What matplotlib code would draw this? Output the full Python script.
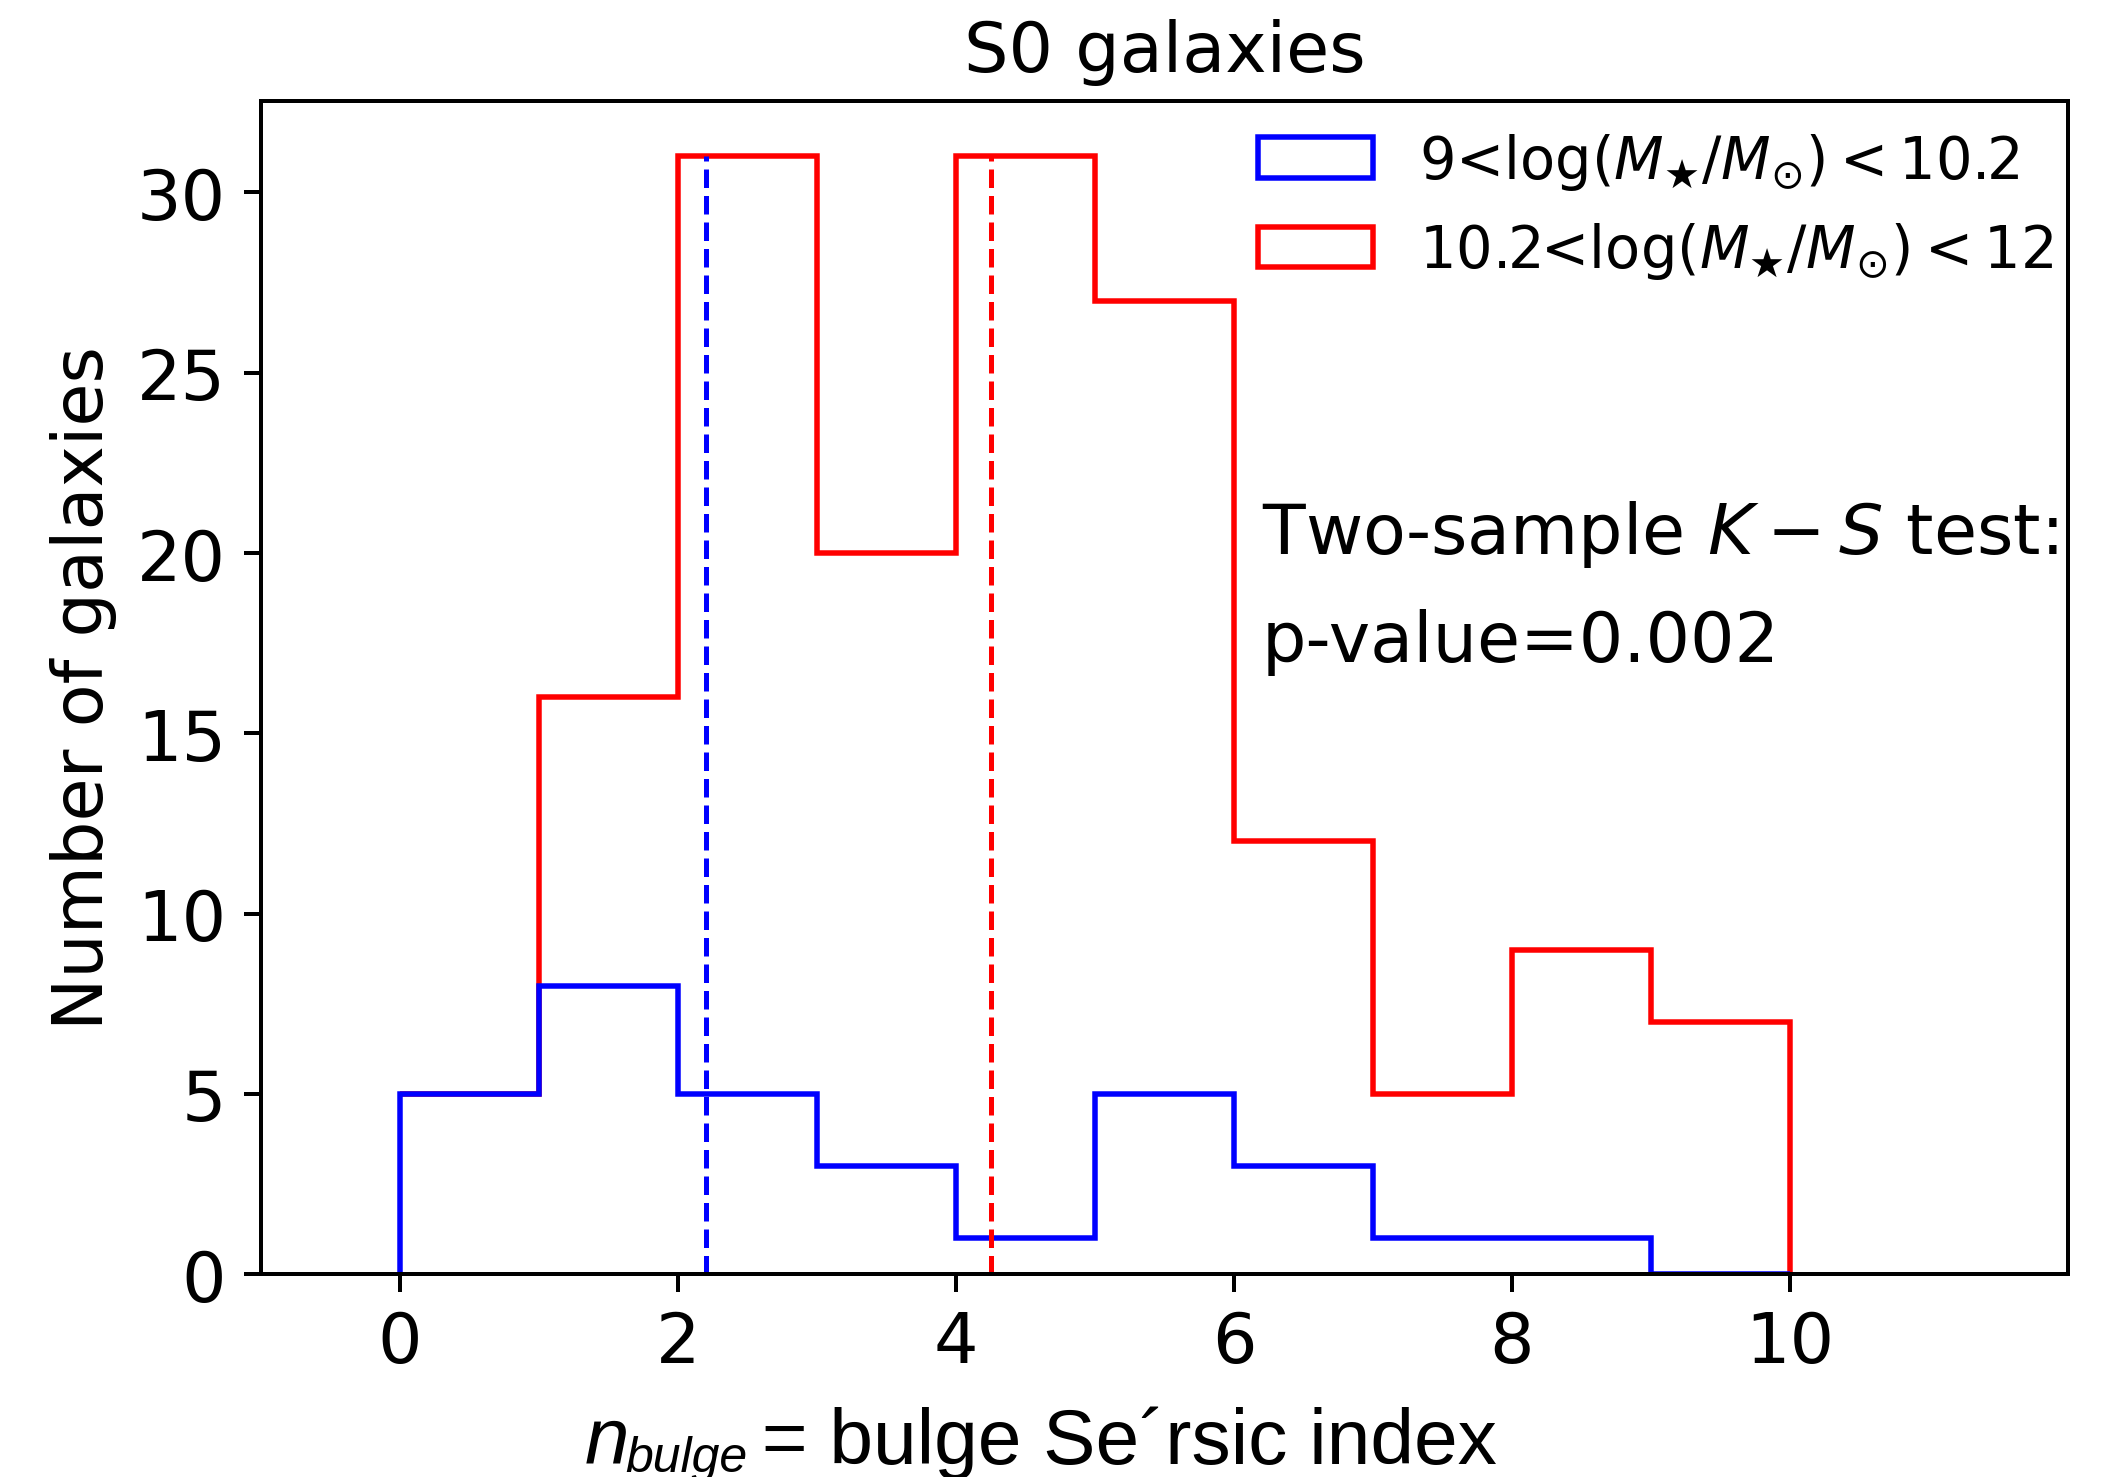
import numpy as np
import matplotlib
matplotlib.use('Agg')
import matplotlib.pyplot as plt

# Bins of the bulge Sersic index and counts
bin_edges = [0, 1, 2, 3, 4, 5, 6, 7, 8, 9, 10]
low_mass_counts = [5, 8, 5, 3, 1, 5, 3, 1, 1, 0]     # 9 < log M < 10.2
high_mass_counts = [0, 8, 26, 17, 30, 22, 9, 4, 8, 7]  # 10.2 < log M < 12 (stacked on top)
low_mass_median = 2.2
high_mass_median = 4.25
labels = [r'9<log($M_{\bigstar}/M_{\odot}) < 10.2$',
          r'10.2<log($M_{\bigstar}/M_{\odot}) < 12$']
ks_pvalue = 0.002

centers = (np.array(bin_edges[:-1]) + np.array(bin_edges[1:])) / 2

plt.rcParams['font.size'] = 14
dpi = 360
fig = plt.figure(figsize=(2122 / dpi, 1478 / dpi), dpi=dpi)
ax = fig.add_axes([0.1230, 0.1373, 0.9745 - 0.1230, 0.9313 - 0.1373])

ax.hist([centers, centers], bins=bin_edges,
        weights=[low_mass_counts, high_mass_counts],
        histtype='step', stacked=True, color=['blue', 'red'],
        label=labels, linewidth=1.1)

top = max(np.array(low_mass_counts) + np.array(high_mass_counts))
ax.vlines(low_mass_median, 0, top, colors='blue', linestyles='dashed', linewidth=1.0)
ax.vlines(high_mass_median, 0, top, colors='red', linestyles='dashed', linewidth=1.0)

ax.set_xlim(-1, 12)
ax.set_ylim(0, 32.55)
ax.set_xticks([0, 2, 4, 6, 8, 10])
ax.set_yticks([0, 5, 10, 15, 20, 25, 30])
ax.set_ylabel('Number of galaxies')
ax.set_title('S0 galaxies', fontsize=14)

ax.text(6.2, 20, r'Two-sample $K-S$ test:', va='baseline', fontsize=14)
ax.text(6.2, 17, 'p-value=%.3f' % ks_pvalue, va='baseline', fontsize=14)

# stacked hist lists the legend entries reversed; put the low-mass one first
handles, labs = ax.get_legend_handles_labels()
ax.legend(handles[::-1], labs[::-1], loc='upper right', frameon=False,
          fontsize=11.5, bbox_to_anchor=(1.0044, 0.994), borderaxespad=0)

# x label in a Helvetica-like face, built from pieces
base_y = 14 / 1478
t1 = fig.text(585 / 2122, base_y, 'n', family='Liberation Sans',
              style='italic', fontsize=16, va='baseline')
t2 = ax.annotate('bulge', xy=(1, base_y), xycoords=(t1, 'figure fraction'),
                 xytext=(-0.9, -1.7), textcoords='offset points',
                 family='Liberation Sans', style='italic', fontsize=10,
                 va='baseline', annotation_clip=False)
t3 = ax.annotate(' = bulge Se\u00b4rsic index', xy=(1, base_y),
                 xycoords=(t2, 'figure fraction'),
                 xytext=(-1.4, 0), textcoords='offset points',
                 family='Liberation Sans',
                 fontsize=15.7, va='baseline', annotation_clip=False)

fig.savefig('out.png', dpi=dpi)
